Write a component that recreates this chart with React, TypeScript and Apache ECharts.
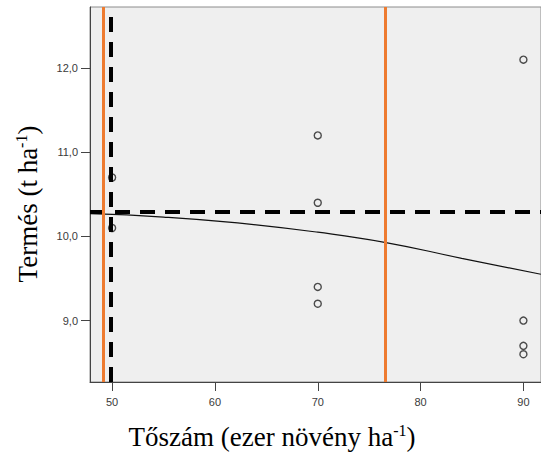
import React, { useEffect, useRef } from "react";
import * as echarts from "echarts";

// Observations: plant density (thousand plants/ha) vs yield (t/ha)
const obsX = [50, 50, 70, 70, 70, 70, 90, 90, 90, 90];
const obsY = [10.7, 10.1, 11.2, 10.4, 9.4, 9.2, 12.1, 9.0, 8.7, 8.6];

// Fitted curve
const curveX = [47.85, 55, 62.2, 70, 76.5, 84, 91.7];
const curveY = [10.27, 10.23, 10.16, 10.05, 9.93, 9.74, 9.55];

// Reference lines
const orangeLinesX = [49.1, 76.6];
const dashedLineX = 49.9;
const dashedLineY = 10.285;

const xTicks = [50, 60, 70, 80, 90];
const yTicks = [9, 10, 11, 12];

export default function App() {
  const ref = useRef<HTMLDivElement>(null);
  useEffect(() => {
    if (!ref.current) return;
    const chart = echarts.init(ref.current, undefined, { renderer: "svg" });
    const tickLabel = { color: "#3a3a3a", fontSize: 11, fontFamily: "Liberation Sans, Arial, sans-serif" };
    const serif = "Liberation Serif, Times New Roman, serif";
    const rich = {
      a: { fontSize: 27, fontFamily: serif, color: "#000", lineHeight: 30 },
      s: { fontSize: 16, fontFamily: serif, color: "#000", lineHeight: 18, verticalAlign: "top" },
    };
    chart.setOption({
      animation: false,
      grid: {
        left: 90,
        top: 7,
        right: -3,
        bottom: 88,
        show: true,
        backgroundColor: "#efefef",
        borderColor: "#8c8c8c",
        borderWidth: 1,
      },
      xAxis: {
        type: "value",
        min: 47.85,
        max: 91.71,
        axisLine: { show: true, onZero: false, lineStyle: { color: "#444", width: 1 } },
        axisTick: { show: true, inside: false, length: 9, customValues: xTicks, lineStyle: { color: "#444" } },
        axisLabel: {
          ...tickLabel,
          customValues: xTicks,
          margin: 14,
          formatter: (v: number) => String(v),
        },
        splitLine: { show: false },
      },
      yAxis: {
        type: "value",
        min: 8.27,
        max: 12.726,
        axisLine: { show: true, onZero: false, lineStyle: { color: "#444", width: 1 } },
        axisTick: { show: true, inside: false, length: 9, customValues: yTicks, lineStyle: { color: "#444" } },
        axisLabel: {
          ...tickLabel,
          customValues: yTicks,
          margin: 12,
          formatter: (v: number) => v.toFixed(1).replace(".", ","),
        },
        splitLine: { show: false },
      },
      series: [
        {
          type: "line",
          data: curveX.map((x, i) => [x, curveY[i]]),
          smooth: true,
          showSymbol: false,
          symbol: "none",
          lineStyle: { color: "#111", width: 1.2 },
          z: 2,
          silent: true,
          markLine: {
            silent: true,
            symbol: "none",
            label: { show: false },
            lineStyle: { color: "#000", width: 4, type: [15, 10] },
            data: [{ xAxis: dashedLineX }, { yAxis: dashedLineY }],
          },
        },
        {
          type: "scatter",
          data: obsX.map((x, i) => [x, obsY[i]]),
          symbol: "circle",
          symbolSize: 7,
          itemStyle: { color: "rgba(0,0,0,0)", borderColor: "#222", borderWidth: 1.4 },
          z: 4,
          silent: true,
        },
        {
          type: "line",
          data: [],
          z: 5,
          silent: true,
          markLine: {
            silent: true,
            symbol: "none",
            label: { show: false },
            lineStyle: { color: "#ee7b30", width: 3, type: "solid" },
            data: orangeLinesX.map((x) => ({ xAxis: x })),
          },
        },
      ],
      graphic: [
        {
          type: "text",
          x: 272,
          y: 437,
          style: {
            text: "{a|Tőszám (ezer növény ha}{s|-1}{a|)}",
            align: "center",
            verticalAlign: "middle",
            rich,
          },
        },
        {
          type: "text",
          x: 28,
          y: 204,
          rotation: Math.PI / 2,
          style: {
            text: "{a|Termés (t ha}{s|-1}{a|)}",
            align: "center",
            verticalAlign: "middle",
            rich,
          },
        },
      ],
    });
    return () => chart.dispose();
  }, []);
  return (
    <div
      ref={ref}
      style={{ position: "fixed", left: 0, top: 0, width: 541, height: 470, background: "#fff" }}
    />
  );
}
